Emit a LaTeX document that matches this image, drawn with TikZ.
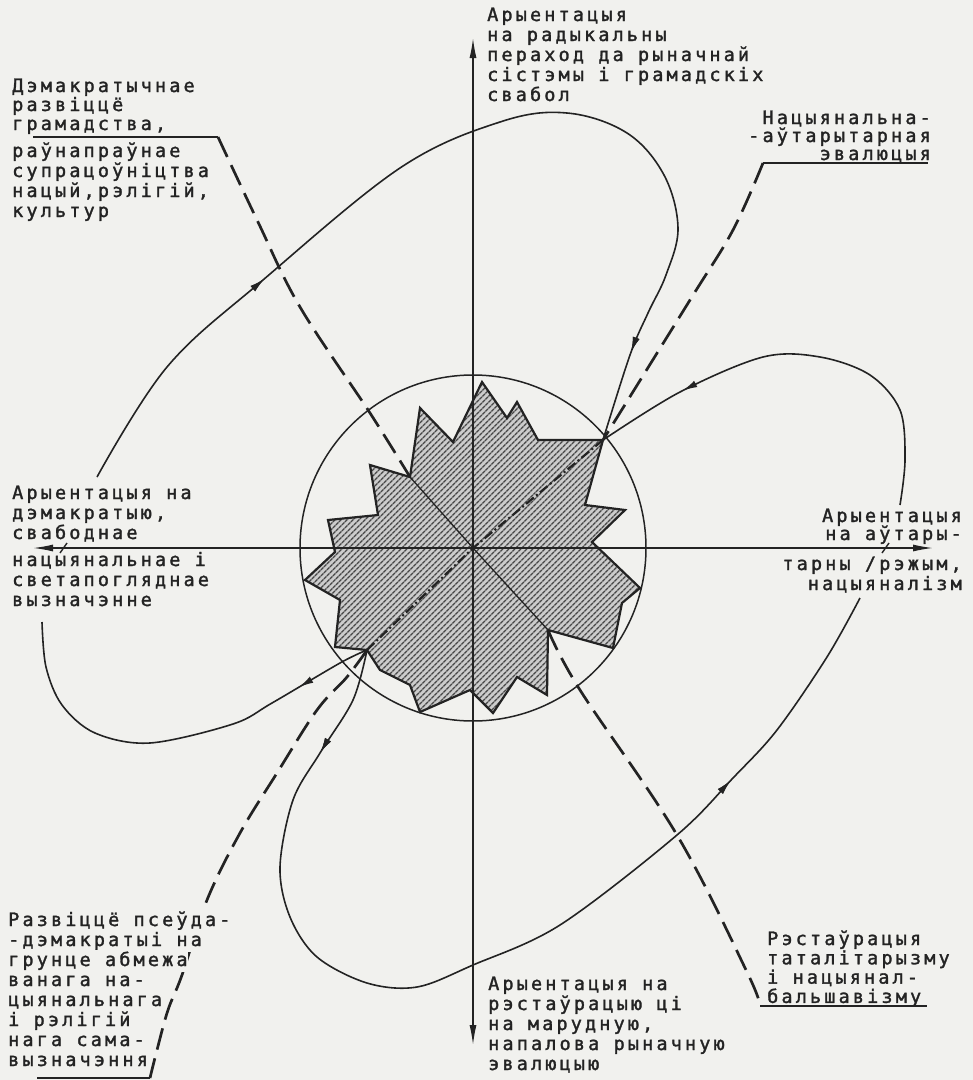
\documentclass[tikz,border=0pt]{standalone}
\usepackage{fontspec}
\newfontfamily\labfont{DejaVu Sans Mono}[LetterSpace=17, FakeBold=1.6]
\usetikzlibrary{arrows.meta,decorations.markings,patterns.meta}
\definecolor{bgc}{RGB}{241,241,238}
\definecolor{ink}{RGB}{35,35,35}
\begin{document}
\begin{tikzpicture}[x=1pt,y=-1pt,
  lab/.style={font=\labfont\fontsize{18.5}{20}\selectfont, inner sep=0pt, text=ink},
  labm/.style={lab, fill=bgc, inner ysep=2pt},
  axisline/.style={line width=1.4pt, draw=ink, >={Latex[length=20pt,width=7pt]}},
  flow/.style={line width=1.6pt, draw=ink},
  evo/.style={line width=2.7pt, draw=ink, dash pattern=on 22pt off 9pt},
  innerln/.style={line width=1.3pt, draw=ink},
  innerdash/.style={line width=2.2pt, draw=ink, dash pattern=on 10pt off 3pt on 2pt off 3pt},
  marrow/.style={postaction={decorate}, decoration={markings, mark=at position #1 with {\arrow{Latex[length=15pt,width=7pt]}}}},
  starline/.style={line width=2.2pt, draw=ink}
]
\fill[bgc] (0,0) rectangle (973,1080);
\useasboundingbox (0,0) rectangle (973,1080);

% key coordinates
\coordinate (c) at (473,548);
\coordinate (neTip) at (603,440);
\coordinate (swTip) at (367,650);
\coordinate (nwIn) at (410,477);
\coordinate (seIn) at (548,630);
\coordinate (nwE) at (218,137);
\coordinate (seE) at (760,1006);
\coordinate (neE) at (763,163);
\coordinate (swE) at (150,1078);

% star
\draw[starline, preaction={fill=black!20}, pattern={Lines[angle=45,distance=4pt,line width=1.4pt]}, pattern color=black!72]
 (482,382) -- (507,418) -- (517,402) -- (538,440) -- (neTip) -- (585,505) -- (625,510) -- (592,542) -- (640,588) -- (622,603) -- (613,648) -- (seIn) -- (547,695) -- (517,677) -- (493,713) -- (470,690) -- (420,712) -- (410,685) -- (380,670) -- (swTip) -- (335,647) -- (340,600) -- (305,580) -- (335,552) -- (328,520) -- (378,515) -- (370,465) -- (nwIn) -- (420,408) -- (453,442) -- cycle;

% circle
\node[circle, draw=ink, line width=1.5pt, minimum size=346pt, inner sep=0pt] (ring) at (c) {};

% axes
\coordinate (axT) at (473,38);
\coordinate (axB) at (473,1045);
\coordinate (axL) at (33,548);
\coordinate (axR) at (933,548);
\draw[axisline, <->] (axL) -- (axR);
\draw[axisline, <->] (axB) -- (axT);
\draw[axisline] (60,553) -- (67,543);
\draw[axisline] (882,553) -- (889,543);

% evolution lines
\draw[flow] (33,137) -- (nwE);
\draw[evo] plot[smooth, tension=0.6] coordinates {(nwE) (258,222) (300,307) (370,413) (nwIn)};
\draw[innerln] (nwIn) -- (c) -- (seIn);
\draw[evo] plot[smooth, tension=0.6] coordinates {(seIn) (580,690) (677,835) (747,972) (seE)};
\draw[flow] (seE) -- (927,1006);

\draw[flow] (neE) -- (928,163);
\draw[evo] plot[smooth, tension=0.6] coordinates {(neE) (733,230) (690,300) (neTip)};
\draw[innerdash] (neTip) -- (c) -- (swTip);
\draw[evo] plot[smooth, tension=0.6] coordinates {(swTip) (347,677) (317,710) (277,773) (240,833) (207,900) (182,975) (168,1010) (157,1050) (swE)};
\draw[flow] (37,1078) -- (swE);

% flow loops
\coordinate (aS) at (97,477);
\draw[flow, marrow=262pt, marrow=925pt] plot[smooth, tension=0.6] coordinates {(aS) (167,367) (263,280) (400,168) (500,122) (567,113) (627,133) (664,175) (678,228) (666,275) (648,313) (630,355) (neTip)};
\coordinate (bS) at (900,505);
\draw[flow, marrow=341pt] plot[smooth, tension=0.55] coordinates {(bS) (905,460) (900,410) (870,375) (820,357) (763,357) (680,392) (neTip)};
\coordinate (cE) at (860,598);
\draw[flow, marrow=114pt, marrow=825pt] plot[smooth, tension=0.55] coordinates {(swTip) (353,700) (320,753) (293,800) (280,867) (290,917) (317,957) (367,983) (417,987) (473,965) (560,925) (677,835) (733,778) (777,730) (827,657) (cE)};
\coordinate (dE) at (42,622);
\draw[flow, marrow=78pt] plot[smooth, tension=0.55] coordinates {(swTip) (340,663) (272,703) (233,724) (150,743) (95,733) (62,705) (46,667) (dE)};

% labels
\foreach \t [count=\i] in {{Дэмакратычнае},{развіццё},{грамадства,}}
  \node[lab, anchor=base west] (nwa\i) at (12,{92+19*(\i-1)}) {\t};
\foreach \t [count=\i] in {{раўнапраўнае},{супрацоўніцтва},{нацый,рэлігій,},{культур}}
  \node[lab, anchor=base west] (nwb\i) at (12,{157+20*(\i-1)}) {\t};
\foreach \t [count=\i] in {{Арыентацыя},{на радыкальны},{пераход да рыначнай},{сістэмы і грамадскіх},{свабол}}
  \node[lab, anchor=base west] (top\i) at (487,{21+20*(\i-1)}) {\t};
\foreach \t [count=\i] in {{Нацыянальна-},{-аўтарытарная},{эвалюцыя}}
  \node[lab, anchor=base east] (ne\i) at (931,{124+18*(\i-1)}) {\t};
\foreach \t [count=\i] in {{Арыентацыя на},{дэмакратыю,},{свабоднае}}
  \node[lab, anchor=base west] (lfa\i) at (12,{499+20*(\i-1)}) {\t};
\foreach \t [count=\i] in {{нацыянальнае і},{светапогляднае},{вызначэнне}}
  \node[lab, anchor=base west] (lfb\i) at (12,{566+20*(\i-1)}) {\t};
\foreach \t [count=\i] in {{Арыентацыя},{на аўтары-}}
  \node[lab, anchor=base east] (rta\i) at (962,{522+18*(\i-1)}) {\t};
\foreach \t [count=\i] in {{тарны /рэжым,},{нацыяналізм}}
  \node[lab, anchor=base east] (rtb\i) at (962,{570+20*(\i-1)}) {\t};
\foreach \t [count=\i] in {{Арыентацыя на},{рэстаўрацыю ці},{на марудную,},{напалова рыначную},{эвалюцыю}}
  \node[lab, anchor=base west] (bot\i) at (488,{990+20*(\i-1)}) {\t};
\foreach \t [count=\i] in {{Рэстаўрацыя},{таталітарызму},{і нацыянал-},{бальшавізму}}
  \node[lab, anchor=base west] (se\i) at (767,{945+19.3*(\i-1)}) {\t};
\foreach \t [count=\i] in {{Развіццё псеўда-},{-дэмакратыі на},{грунце абмежа},{ванага на-},{цыянальнага},{і рэлігій},{нага сама-},{вызначэння}}
  \node[labm, anchor=base west] (sw\i) at (8,{926+20*(\i-1)}) {\t};
\end{tikzpicture}
\end{document}
